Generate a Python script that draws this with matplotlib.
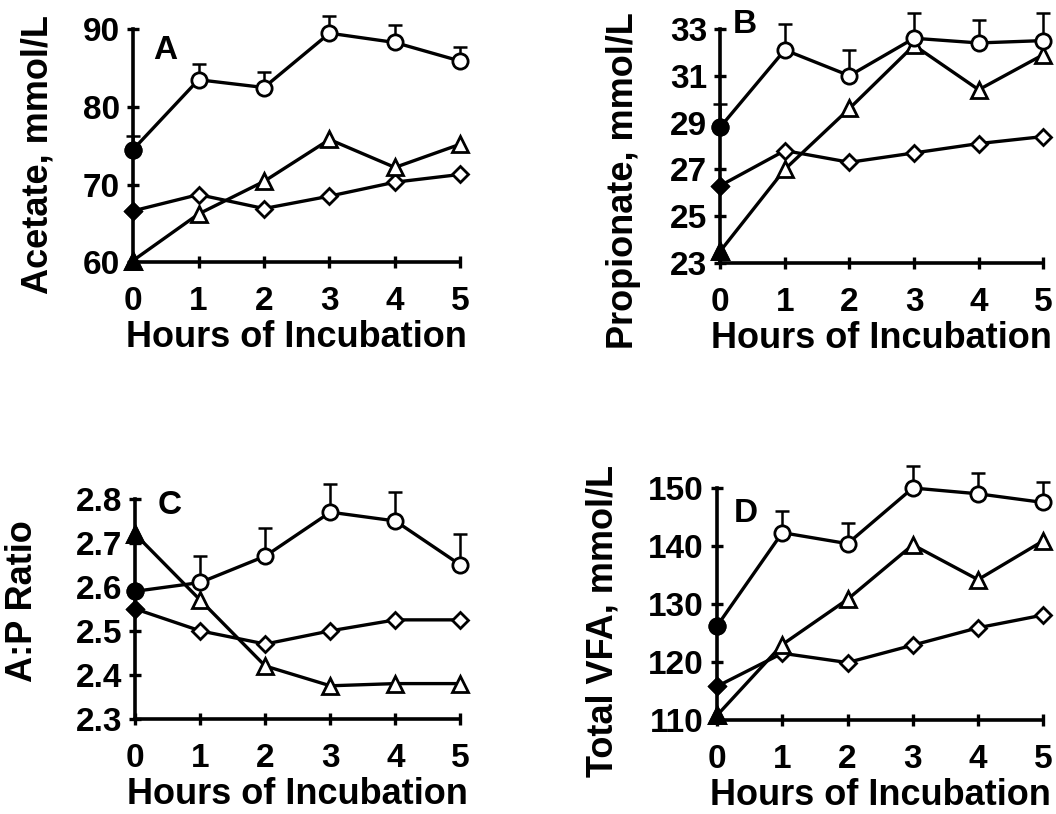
"""Rumen VFA concentrations over hours of incubation, four panels."""

import matplotlib
matplotlib.use("Agg")
import matplotlib.pyplot as plt
import numpy as np

plt.rcParams["font.family"] = ["Liberation Sans", "DejaVu Sans"]
plt.rcParams["font.weight"] = "bold"

hours = [0, 1, 2, 3, 4, 5]

# panel A - acetate
acetate_circle = [74.5, 83.5, 82.5, 89.5, 88.3, 85.9]
acetate_circle_err = [1.7, 2.0, 2.0, 2.2, 2.2, 1.8]
acetate_triangle = [60.2, 66.2, 70.4, 75.8, 72.2, 75.2]
acetate_diamond = [66.6, 68.7, 66.9, 68.5, 70.3, 71.3]

# panel B - propionate
prop_circle = [28.8, 32.1, 31.0, 32.6, 32.4, 32.5]
prop_circle_err = [1.0, 1.1, 1.1, 1.1, 1.0, 1.2]
prop_triangle = [23.5, 27.0, 29.6, 32.3, 30.4, 31.9]
prop_diamond = [26.3, 27.8, 27.3, 27.7, 28.1, 28.4]

# panel C - A:P ratio
ratio_circle = [2.59, 2.61, 2.67, 2.77, 2.75, 2.65]
ratio_circle_err = [0.0, 0.06, 0.065, 0.065, 0.065, 0.07]
ratio_triangle = [2.72, 2.57, 2.42, 2.375, 2.38, 2.38]
ratio_diamond = [2.55, 2.50, 2.47, 2.50, 2.525, 2.525]

# panel D - total VFA
vfa_circle = [126.2, 142.3, 140.4, 150.0, 149.0, 147.5]
vfa_circle_err = [0.0, 3.7, 3.6, 3.8, 3.6, 3.6]
vfa_triangle = [110.8, 123.0, 130.8, 140.2, 134.2, 140.9]
vfa_diamond = [115.8, 121.5, 119.9, 122.9, 125.9, 128.1]

panels = [
    dict(pos=[0.126, 0.678, 0.310, 0.286], ylim=(60, 90),
         yticks=[60, 70, 80, 90], fmt="{:.0f}", ylabel="Acetate, mmol/L",
         label_xy=(-0.29, 0.464), letter="A", lxy=(0.06, 0.91),
         circle=acetate_circle, err=acetate_circle_err,
         triangle=acetate_triangle, diamond=acetate_diamond),
    dict(pos=[0.682, 0.677, 0.306, 0.2875], ylim=(23, 33),
         yticks=[23, 25, 27, 29, 31, 33], fmt="{:.0f}",
         ylabel="Propionate, mmol/L", label_xy=(-0.30, 0.35),
         letter="B", lxy=(0.04, 1.02),
         circle=prop_circle, err=prop_circle_err,
         triangle=prop_triangle, diamond=prop_diamond),
    dict(pos=[0.128, 0.117, 0.308, 0.270], ylim=(2.3, 2.8),
         yticks=[2.3, 2.4, 2.5, 2.6, 2.7, 2.8], fmt="{:.1f}",
         ylabel="A:P Ratio", label_xy=(-0.345, 0.536),
         letter="C", lxy=(0.07, 0.97),
         circle=ratio_circle, err=ratio_circle_err,
         triangle=ratio_triangle, diamond=ratio_diamond),
    dict(pos=[0.679, 0.1155, 0.309, 0.285], ylim=(110, 150),
         yticks=[110, 120, 130, 140, 150], fmt="{:.0f}",
         ylabel="Total VFA, mmol/L", label_xy=(-0.35, 0.427),
         letter="D", lxy=(0.05, 0.89),
         circle=vfa_circle, err=vfa_circle_err,
         triangle=vfa_triangle, diamond=vfa_diamond),
]

fig = plt.figure(figsize=(10.56, 8.14), dpi=100)

lw = 2.4
for p in panels:
    ax = fig.add_axes(p["pos"])
    series = [(p["diamond"], "D", 8), (p["triangle"], "^", 11),
              (p["circle"], "o", 11)]
    for vals, mk, ms in series:
        ax.plot(hours, vals, color="black", lw=lw, marker=mk, ms=ms,
                mfc="white", mec="black", mew=2, clip_on=False, zorder=3)
        ax.plot(hours[:1], vals[:1], ls="none", marker=mk, ms=ms,
                mfc="black", mec="black", mew=2, clip_on=False, zorder=4)
    upper = np.array(p["err"])
    ax.errorbar(hours, p["circle"], yerr=[np.zeros_like(upper), upper],
                fmt="none", ecolor="black", elinewidth=1.8, capsize=5,
                capthick=1.8, clip_on=False, zorder=2)

    ax.set_xlim(0, 5)
    ax.set_ylim(*p["ylim"])
    ax.set_xticks(hours)
    ax.set_yticks(p["yticks"])
    ax.set_yticklabels([p["fmt"].format(v) for v in p["yticks"]])
    for side in ["top", "right"]:
        ax.spines[side].set_visible(False)
    for side in ["left", "bottom"]:
        ax.spines[side].set_linewidth(2.6)
    ax.tick_params(direction="inout", length=9, width=2.4, labelsize=24)
    ax.tick_params(axis="x", pad=13)
    ax.tick_params(axis="y", pad=5)
    ax.set_xlabel("Hours of Incubation", fontsize=26, fontweight="bold",
                  labelpad=2)
    ax.set_ylabel(p["ylabel"], fontsize=26, fontweight="bold", va="center")
    ax.yaxis.set_label_coords(*p["label_xy"])
    ax.text(p["lxy"][0], p["lxy"][1], p["letter"], transform=ax.transAxes,
            fontsize=24, fontweight="bold", ha="left", va="center")

fig.savefig("out.png", dpi=100)
